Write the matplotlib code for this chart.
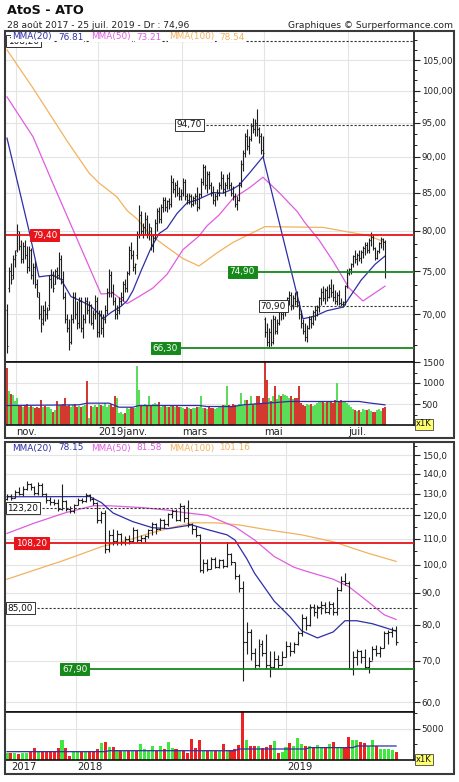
import numpy as np
import matplotlib.pyplot as plt
from matplotlib.patches import Rectangle
from matplotlib.ticker import FixedLocator, FuncFormatter, NullFormatter
import matplotlib.transforms as mtransforms

# ===============================
# DONNEES JOURNALIERES (oct. 2018 - 25 juil. 2019)
# ===============================
d_open = [70.5, 73, 75, 74.5, 76.5, 77.5, 79.5, 78, 76.5, 78,
          77, 75.5, 77.5, 74.5, 75.5, 73.5, 72, 70, 69.5, 70.5,
          70, 71, 74, 74.5, 73.5, 75, 74.5, 76.5, 74, 72,
          69.5, 68.5, 67, 69.5, 72, 70, 69, 71.5, 68.5, 69.5,
          71.5, 70.5, 71, 69, 70, 71.5, 68, 70, 68.5, 69.5,
          70.5, 72.5, 74.5, 72.5, 71.5, 70, 70.5, 71.5, 72, 73.5,
          73, 74.8, 77.5, 77, 75.5, 77, 79.5, 82, 80, 80.5,
          81.5, 79.5, 80, 78, 79, 81, 82.5, 81.5, 83, 84,
          83, 83.8, 83.5, 86.5, 85.5, 86, 85, 84.5, 85, 86.5,
          84.5, 84, 84.5, 83.5, 84.2, 84.5, 83, 84.8, 86.5, 88.5,
          86, 87.5, 86, 85, 84, 84.5, 85, 86, 87, 85.5,
          86, 87, 86, 85, 84.5, 83.5, 84, 86, 89, 90.5,
          93, 91.5, 92.5, 94.5, 94, 95, 94, 93, 91, 69.5,
          68, 67, 68, 67, 69.5, 68.2, 69, 70.5, 70, 70.8,
          71, 71.8, 72.2, 71, 71.8, 71.5, 71, 70, 69, 68.2,
          67.5, 68.5, 69.5, 69, 70.2, 70.5, 70.8, 71.8, 72.5, 71.8,
          72.8, 72, 73, 72.5, 72, 71.5, 72.2, 71.3, 71.2, 71.4,
          73.2, 74.8, 75.2, 75.8, 76.8, 76.5, 77, 76.6, 77.3, 77.8,
          78.2, 77.5, 78.8, 79.2, 77.8, 76.6, 77.4, 78.4, 78.9, 78.5]
d_high = [71.2, 75.5, 76, 77, 77.5, 80.8, 80, 78.8, 78.5, 78.8,
          78, 78, 77.8, 76, 76.2, 74, 72.5, 71, 71, 71.5,
          70.8, 74.5, 75.3, 75, 75.3, 75.5, 77.3, 77, 75, 72.5,
          70, 69.5, 70, 72.5, 72.5, 71.5, 72, 72, 70, 72,
          72, 71.5, 71.2, 70.5, 72.2, 72, 70.5, 70.5, 70, 71,
          73, 75.2, 75, 73.5, 72, 71, 72, 72.5, 73.8, 74,
          75, 78, 78.5, 77.5, 76, 80, 83.3, 82.5, 81, 82.4,
          82, 81, 80.4, 79.5, 81.5, 82.9, 83, 83.5, 84.4, 84.4,
          84, 84.2, 87.4, 87, 86.5, 86.7, 85.8, 85.5, 87, 86.8,
          85, 85, 84.8, 84.5, 85, 85.7, 85, 87, 89, 88.8,
          88, 88, 86.5, 85.9, 85, 85.5, 86.5, 87.9, 87.5, 86.5,
          87.5, 87.8, 86.5, 85.9, 85, 84.5, 86.5, 89.5, 91, 93.5,
          94, 93, 95, 95.8, 95.5, 97.1, 94.3, 93.5, 93, 69.7,
          69, 68.5, 69.5, 69.9, 69.8, 69.5, 71, 71.6, 71.2, 71.5,
          72, 72.7, 72.5, 72.2, 72.5, 72.7, 71.5, 70.5, 69.5, 69,
          68.8, 69.8, 69.8, 70.5, 70.9, 71, 72, 73, 73.2, 73,
          73.2, 73.5, 74, 73.5, 72.8, 72.5, 72.8, 71.8, 71.5, 73.4,
          75.2, 75.4, 76, 77, 77.6, 77.2, 77.5, 77.6, 78, 78.5,
          78.5, 79, 79.8, 79.5, 77.9, 77.6, 78.6, 79.2, 79, 78.8]
d_low = [65.8, 72.5, 73.5, 74, 75.5, 77.3, 77.5, 76, 76, 76.5,
         74.8, 75, 74, 73.5, 73, 71.9, 69.5, 68, 68.8, 69.2,
         69.5, 70.5, 73, 72.5, 73.5, 74, 74, 73.5, 71.7, 69,
         68, 66.1, 66.8, 69, 69.5, 68.4, 68.5, 68, 67.4, 69,
         70, 69, 68.8, 68.4, 69.5, 67.5, 67.5, 67.8, 67.5, 69,
         70, 72, 72, 71, 69.5, 69.5, 70, 71, 71.5, 72.5,
         72.5, 74.5, 76.5, 75, 74.6, 76.5, 79, 79.5, 79.1, 79.5,
         79, 78.8, 77.5, 77.3, 78.8, 80, 81, 81, 82.4, 82.5,
         82.4, 82.8, 83, 85, 84.4, 84.5, 84, 84, 84.5, 84,
         83.4, 83.5, 83.1, 83.2, 83.5, 82.5, 82.8, 84.4, 86, 85.5,
         85, 85.5, 84.5, 83.5, 83.2, 84, 84.5, 85.5, 85, 84.5,
         85.5, 85.5, 84.5, 84, 83, 82.6, 83.8, 85.8, 88, 90,
         91, 90.4, 92.3, 93.5, 93, 93, 92, 90.4, 89.9, 67.5,
         66.5, 66.4, 66.5, 66.8, 67.8, 67.8, 68.8, 69.4, 69.5, 69.8,
         70.5, 71, 70.5, 70.6, 71, 70.8, 69.5, 68.5, 67.8, 67.1,
         67, 68.4, 68.5, 68.8, 69.4, 69.8, 70.2, 71, 71.5, 71.2,
         71.5, 71.8, 72, 71.5, 71.2, 71, 71, 70.9, 70.8, 71,
         73, 74.5, 74.6, 75.5, 76, 75.7, 76.2, 76, 76.6, 77,
         77.2, 77.2, 78, 77.6, 76.3, 76.4, 77.2, 77.8, 77.6, 74.2]
d_close = [66.5, 75, 74, 76.5, 77, 80, 78, 76.5, 78, 77,
           75.5, 77.5, 74.5, 75.5, 73.5, 72.5, 70, 69, 70.5, 70,
           70.5, 74, 74.5, 73, 75, 74.5, 76.5, 74, 72, 69.5,
           68.5, 67, 69.5, 72, 70, 69, 71.5, 68.5, 69.5, 71.5,
           70.5, 71, 69, 70, 71.5, 68, 70, 68.5, 69.5, 70.5,
           72.5, 74.5, 72.5, 71.5, 70, 70.5, 71.5, 72, 73.5, 73,
           74.8, 77.5, 77, 75.5, 75.8, 79.5, 82, 80, 80.5, 81.5,
           79.5, 80.5, 78, 79, 81, 82.5, 81.5, 83, 84, 83,
           83.8, 83.5, 86.5, 85.5, 86, 85, 84.5, 85, 86.5, 84.5,
           84, 84.5, 83.5, 84.2, 84.5, 83, 84.8, 86.5, 88.5, 86,
           87.5, 86, 85, 84, 84.5, 85, 86, 87, 85.5, 86,
           87, 86, 85, 84.5, 83.5, 84, 86, 89, 90.5, 93,
           91.5, 92.5, 94.5, 94, 95, 94, 93, 91, 90.5, 68,
           67, 68, 67, 69.5, 68.2, 69, 70.5, 70, 70.8, 71,
           71.8, 72.2, 71, 71.8, 71.5, 71, 70, 69, 68.2, 67.5,
           68.5, 69.5, 69, 70.2, 70.5, 70.8, 71.8, 72.5, 71.8, 72.8,
           72, 73, 72.5, 72, 71.5, 72.2, 71.3, 71.2, 71.4, 73.2,
           74.8, 75.2, 75.8, 76.8, 76.5, 77, 76.6, 77.3, 77.8, 78.2,
           77.5, 78.8, 79.2, 77.8, 76.6, 77.4, 78.4, 78.9, 78.5, 74.96]
d_vol = [1360, 800, 750, 720, 560, 640, 480, 450, 420, 470,
         500, 440, 460, 430, 400, 420, 410, 600, 440, 450,
         430, 420, 380, 320, 350, 560, 470, 480, 500, 640,
         450, 480, 430, 470, 500, 440, 460, 420, 450, 470,
         1040, 160, 450, 420, 470, 430, 500, 480, 460, 520,
         440, 470, 500, 440, 680, 650, 280, 300, 270, 290,
         400, 380, 420, 410, 400, 1400, 840, 480, 460, 500,
         470, 680, 470, 490, 520, 510, 540, 430, 460, 450,
         420, 440, 470, 450, 430, 460, 420, 440, 410, 390,
         420, 400, 380, 410, 400, 420, 440, 680, 400, 410,
         380, 420, 400, 410, 380, 400, 420, 450, 470, 480,
         920, 480, 460, 500, 470, 450, 490, 760, 480, 600,
         600, 470, 680, 500, 520, 680, 680, 500, 640, 1520,
         1080, 640, 560, 680, 920, 620, 720, 700, 740, 720,
         680, 640, 700, 620, 640, 640, 920, 520, 480, 460,
         500, 470, 490, 460, 480, 520, 560, 540, 560, 520,
         580, 560, 540, 520, 600, 1000, 560, 600, 540, 580,
         520, 480, 440, 380, 360, 340, 360, 320, 380, 350,
         360, 370, 340, 320, 300, 360, 380, 330, 400, 420]

ma20_idx = [0, 11, 16, 19, 23, 27, 32, 37, 42, 47, 48, 52, 57, 60, 63, 67, 72, 76,
            80, 85, 90, 95, 103, 108, 113, 116, 121, 128, 148, 154, 160, 168, 177, 184, 189]
ma20_val = [92.7, 80, 74.3, 74.4, 74.5, 74, 72, 71.5, 70.9, 69.8, 69.5, 70.2, 70.9, 71.5,
            72.7, 75, 77.8, 79.6, 80.3, 82.2, 83.6, 84, 85, 84.9, 85.5, 86, 87.6, 90,
            69.5, 69.8, 70.4, 70.8, 73.9, 75.8, 76.81]
ma50_idx = [0, 13, 23, 31, 37, 42, 47, 53, 60, 66, 73, 80, 88, 96, 100, 106, 113, 121,
            128, 136, 145, 149, 156, 163, 171, 178, 189]
ma50_val = [99, 92.9, 86.2, 81.3, 77.8, 75, 72.3, 72.4, 71.2, 72, 73, 74.6, 77.6, 79.3,
            80.6, 82, 84.2, 85.6, 87.1, 85, 82.5, 81, 78.8, 76.2, 73, 71.5, 73.21]
ma100_idx = [0, 13, 30, 41, 46, 55, 60, 65, 71, 80, 88, 96, 105, 113, 121, 129, 158, 171, 180, 189]
ma100_val = [106.7, 100.4, 92.3, 87.7, 86.3, 84.4, 82.6, 81.5, 79.6, 77.9, 76.5, 75.6,
             77.2, 78.5, 79.5, 80.5, 80.4, 79.8, 79.4, 78.54]
vma_idx = [0, 13, 36, 40, 51, 56, 63, 66, 96, 100, 113, 118, 130, 141, 176, 182, 189]
vma_val = [464, 470, 480, 520, 520, 424, 424, 464, 464, 440, 440, 480, 520, 560, 560, 520, 480]

month_idx = [5, 46, 88, 129, 171]
month_lbl = ["nov.", "2019janv.", "mars", "mai", "juil."]

# ===============================
# DONNEES HEBDOMADAIRES (28 août 2017 - 25 juil. 2019)
# ===============================
w_open = [127.5, 129, 128, 131, 130, 132.5, 134.5, 133, 130.5, 134,
          130, 127, 126, 125.5, 123, 126.5, 123, 122, 124.5, 127,
          126.5, 129.5, 127.5, 125.5, 118, 121, 106, 111.5, 109, 112,
          108.5, 110, 109, 113.5, 109.5, 110.5, 111, 113.5, 116, 114,
          118, 116, 120.5, 122, 118, 124, 119, 116, 114, 111.5,
          98, 100.5, 98.5, 102, 99, 101.5, 99.5, 104, 101, 96,
          91.5, 75, 78, 72, 69, 74.5, 72, 69, 68.5, 70.5,
          69, 71, 74, 72.5, 74.5, 77.5, 82, 80, 85.5, 84,
          85.5, 86, 84, 86.5, 84, 91, 94, 93.5, 68, 71,
          72.5, 71, 68.5, 70, 73, 72, 73.5, 77.5, 78, 78.5]
w_high = [130, 130, 132, 133, 133.5, 136, 135, 133.5, 135.8, 135,
          130.5, 128.5, 127.5, 127.3, 134.5, 127, 124, 125, 128, 128,
          130.5, 130, 128.5, 126, 122, 122.4, 113.8, 114, 113.5, 112.5,
          111, 111.5, 114.8, 114, 111.5, 111.5, 114, 117.2, 116.5, 118.8,
          118.5, 121, 123, 123, 125.8, 124.5, 127, 116.7, 115.5, 112,
          102, 102, 102.8, 103, 102, 102, 108.5, 104.5, 101, 96.5,
          93.9, 80.9, 78.9, 73.4, 76, 75.5, 77.4, 72.5, 72.5, 71.5,
          72.5, 75.2, 75, 75, 78.2, 83.3, 82.5, 86.4, 86.4, 86,
          87.4, 87, 87.2, 87, 92.1, 96, 97, 94, 72.5, 73,
          72.8, 73, 71, 74, 74.3, 74, 78.2, 78.5, 79.3, 79.7]
w_low = [126.8, 127, 128, 129.5, 129, 132, 132, 129.5, 129.5, 129,
         125.6, 124.8, 124.5, 122, 122.5, 122, 121.2, 121, 124.5, 125.5,
         126, 126.5, 124.5, 116.8, 116.5, 104.5, 104.8, 107.5, 107.5, 107.5,
         107.5, 108, 108.6, 108.6, 108.6, 108.6, 110.5, 111.4, 112, 113.5,
         114.6, 115.5, 119, 117.3, 117.5, 117, 115, 112, 110.9, 97.2,
         97, 97.5, 98.5, 98.7, 98.7, 98.7, 99, 100, 94.7, 90.4,
         65, 71.8, 70.2, 67.8, 68.5, 71.3, 67.8, 66, 67.8, 68,
         68.9, 71, 71.3, 72, 74.2, 76.8, 78.5, 79.7, 82.5, 82.1,
         83.3, 83.5, 83.3, 83, 83, 90.5, 92.8, 67.8, 66.4, 68.9,
         69.5, 67.8, 66.8, 70.2, 71.3, 71, 73.5, 74.5, 76.5, 74.2]
w_close = [129, 128, 131, 130, 132.5, 134.5, 133, 130.5, 134, 130,
           127, 126, 125.5, 123, 126.5, 123, 122, 124.5, 127, 126.5,
           129.5, 127.5, 125.5, 118, 121, 106, 111.5, 109, 112, 108.5,
           110, 109, 113.5, 109.5, 110.5, 111, 113.5, 116, 114, 118,
           116, 120.5, 122, 118, 124, 119, 116, 114, 111.5, 98,
           100.5, 98.5, 102, 99, 101.5, 99.5, 104, 101, 96, 91.5,
           75, 78, 72, 69, 74, 72, 69, 68.5, 70.5, 69,
           71, 74, 72.5, 74.5, 77.5, 82, 80, 85.5, 84, 85.5,
           86, 84, 86.5, 84, 91, 94, 93.5, 68, 71, 72.5,
           71, 68.5, 70, 73, 72, 73.5, 77.5, 78, 78.5, 74.96]
w_vol = [1080, 1050, 1080, 1000, 1100, 1200, 1250, 1880, 1340, 1400,
         1450, 1400, 1340, 1880, 3230, 2000, 650, 1350, 1300, 1350,
         1340, 1400, 1340, 1780, 2700, 2960, 2040, 2100, 1600, 1450,
         1450, 1500, 1450, 1450, 2530, 1780, 1450, 2310, 1450, 2310,
         1780, 2850, 2000, 1780, 1450, 1450, 1180, 3390, 2000, 3280,
         1450, 1450, 1450, 1450, 1450, 2580, 1600, 1600, 1780, 2420,
         7800, 3230, 2260, 2260, 2260, 1880, 2040, 2420, 3070, 1080,
         1240, 2040, 2700, 2200, 3600, 2580, 2260, 2260, 2150, 2420,
         2150, 2150, 2530, 2850, 2150, 2150, 2150, 3770, 3230, 3230,
         2960, 2700, 2310, 3230, 2310, 1720, 1720, 1720, 1600, 1340]

wma20_idx = [0, 21, 24, 27, 32, 37, 41, 47, 51, 56, 58, 61, 63, 68, 72, 75, 79, 83, 86, 89, 93, 99]
wma20_val = [128.5, 128.6, 125.8, 121, 117.2, 114.6, 114.2, 115.8, 113.8, 111.6, 109.5,
             102.2, 96.8, 87.3, 82.4, 78.2, 76.2, 77.9, 81.2, 81.2, 80.3, 78.15]
wma50_idx = [0, 7, 15, 22, 26, 34, 41, 45, 51, 58, 63, 68, 73, 76, 83, 87, 92, 96, 99]
wma50_val = [112.2, 116.6, 121.2, 124.3, 124.3, 123.5, 122.3, 121.2, 120, 115, 109.5,
             103, 99, 97.6, 94.7, 92.1, 87, 83, 81.58]
wma100_idx = [0, 14, 19, 24, 31, 36, 42, 47, 53, 59, 66, 75, 83, 92, 99]
wma100_val = [94.7, 101.3, 104, 106.8, 109.5, 112.1, 114.7, 116.7, 116.7, 115.8, 113.8,
              111.6, 108.8, 104.2, 101.16]
wvma_idx = [0, 25, 26, 58, 59, 76, 77, 88, 89, 99]
wvma_val = [1345, 1345, 1500, 1500, 1775, 1775, 1990, 1990, 2260, 2260]

year_idx = [0.7, 17.6, 71.0]
year_lbl = ["2017", "2018", "2019"]

# ===============================
# STYLE / MISE EN PAGE (pixels)
# ===============================
W, H = 460, 782
BAR = '#1e1e1e'
C20, C50, C100 = '#2e2ea8', '#e05ce0', '#f2b25e'
RED, GREEN = '#e8141b', '#16891a'
GRID = '#e4e4e4'
TXT = '#222222'

fig = plt.figure(figsize=(W / 100, H / 100), dpi=100)


def px_axes(x0, y0, x1, y1):
    return fig.add_axes([x0 / W, 1 - y1 / H, (x1 - x0) / W, (y1 - y0) / H])


def ftext(x, y, s, **kw):
    return fig.text(x / W, 1 - y / H, s, **kw)


def draw_ohlc(ax, o, h, l, c, tick):
    x = np.arange(len(o))
    ax.vlines(x, l, h, color=BAR, lw=0.8, zorder=3)
    ax.hlines(o, x - tick, x, color=BAR, lw=0.8, zorder=3)
    ax.hlines(c, x, x + tick, color=BAR, lw=0.8, zorder=3)


def style_axis(ax, major, minor, fmt, size=6.3):
    ax.yaxis.tick_right()
    ax.yaxis.set_major_locator(FixedLocator(major))
    ax.yaxis.set_minor_locator(FixedLocator(minor))
    ax.yaxis.set_major_formatter(FuncFormatter(fmt))
    ax.yaxis.set_minor_formatter(NullFormatter())
    ax.tick_params(axis='y', which='major', direction='out', length=4, width=0.8,
                   labelsize=size, pad=1.5, colors=TXT)
    ax.tick_params(axis='y', which='minor', direction='out', length=2.5, width=0.7, colors=TXT)
    ax.set_xticks([])
    ax.spines['left'].set_visible(False)
    for s in ('top', 'bottom', 'right'):
        ax.spines[s].set_color('#111111')
        ax.spines[s].set_linewidth(1.2)
    ax.grid(axis='y', which='major', color=GRID, lw=0.8, zorder=0)
    ax.set_axisbelow(True)


def level(ax, val, x0, x1, text, tx, ha, kind):
    if kind == 'red':
        ax.hlines(val, x0, x1, color=RED, lw=1.3, zorder=4)
        fc, ec, tc = RED, RED, 'white'
    elif kind == 'green':
        ax.hlines(val, x0, x1, color=GREEN, lw=1.3, zorder=4)
        fc, ec, tc = GREEN, GREEN, 'white'
    else:
        ax.hlines(val, x0, x1, color='#333333', lw=0.8, linestyles=(0, (2, 1.6)), zorder=4)
        fc, ec, tc = 'white', '#333333', '#111111'
    ax.text(tx, val, text, ha=ha, va='center', fontsize=6.4, color=tc, zorder=6,
            bbox=dict(boxstyle='square,pad=0.18', fc=fc, ec=ec, lw=0.7))


comma2 = lambda v, p: f'{v:.2f}'.replace('.', ',')
comma1 = lambda v, p: f'{v:.1f}'.replace('.', ',')
plain = lambda v, p: f'{v:.0f}'

# ===============================
# PANNEAU HAUT : JOURNALIER
# ===============================
XL1 = (-0.5, 203.5)
ax1 = px_axes(6, 31, 414, 362)
ax1.set_yscale('log')
ax1.set_xlim(*XL1)
ax1.set_ylim(64.87, 109.97)
major1 = [70, 75, 80, 85, 90, 95, 100, 105]
minor1 = [v + d for v in range(65, 110, 5) for d in (5 / 3, 10 / 3)]
style_axis(ax1, major1, minor1, comma2)
for m in month_idx:
    ax1.axvline(m - 0.5, color=GRID, lw=0.8, zorder=0)

draw_ohlc(ax1, d_open, d_high, d_low, d_close, 0.55)
ax1.plot(ma100_idx, ma100_val, color=C100, lw=0.9, zorder=2)
ax1.plot(ma50_idx, ma50_val, color=C50, lw=0.9, zorder=2)
ax1.plot(ma20_idx, ma20_val, color=C20, lw=0.9, zorder=2)

level(ax1, 108.20, XL1[0], XL1[1], '108,20', 0.5, 'left', 'dash')
level(ax1, 94.70, 97.5, XL1[1], '94,70', 97.5, 'right', 'dash')
level(ax1, 79.40, XL1[0], XL1[1], '79,40', 12.5, 'left', 'red')
level(ax1, 74.90, 124.0, XL1[1], '74,90', 124.0, 'right', 'green')
level(ax1, 70.90, 139.5, XL1[1], '70,90', 139.5, 'right', 'dash')
level(ax1, 66.30, 85.5, XL1[1], '66,30', 85.5, 'right', 'green')

# volume journalier
ax2 = px_axes(6, 362, 414, 425)
ax2.set_xlim(*XL1)
ax2.set_ylim(0, 1500)
style_axis(ax2, [500, 1000, 1500], [250, 750, 1250], plain)
for m in month_idx:
    ax2.axvline(m - 0.5, color=GRID, lw=0.8, zorder=0)
up_d = [c >= o for o, c in zip(d_open, d_close)]
ax2.bar(np.arange(len(d_vol)), d_vol, width=0.72,
        color=['#5ade5a' if u else '#d2392f' for u in up_d], zorder=2)
ax2.plot(vma_idx, vma_val, color=C20, lw=0.9, zorder=3)
tr2 = mtransforms.blended_transform_factory(ax2.transData, ax2.transAxes)
for m, lbl in zip(month_idx, month_lbl):
    ax2.text(m - 0.3, -0.115, lbl, transform=tr2, ha='left', va='center',
             fontsize=7.2, color=TXT)

# ===============================
# PANNEAU BAS : HEBDOMADAIRE
# ===============================
XL3 = (-0.25, 103.56)
ax3 = px_axes(6, 442, 414, 711.7)
ax3.set_yscale('log')
ax3.set_xlim(*XL3)
ax3.set_ylim(57.98, 157.4)
major3 = list(range(60, 151, 10))
minor3 = list(range(65, 156, 10))
style_axis(ax3, major3, minor3, comma1)
for y in year_idx[1:]:
    ax3.axvline(y, color=GRID, lw=0.8, zorder=0)

draw_ohlc(ax3, w_open, w_high, w_low, w_close, 0.5)
ax3.plot(wma100_idx, wma100_val, color=C100, lw=0.9, zorder=2)
ax3.plot(wma50_idx, wma50_val, color=C50, lw=0.9, zorder=2)
ax3.plot(wma20_idx, wma20_val, color=C20, lw=0.9, zorder=2)

level(ax3, 123.20, 7.9, XL3[1], '123,20', 7.9, 'right', 'dash')
level(ax3, 108.20, XL3[0], XL3[1], '108,20', 2.3, 'left', 'red')
level(ax3, 85.00, 6.6, XL3[1], '85,00', 6.6, 'right', 'dash')
level(ax3, 67.90, 20.4, XL3[1], '67,90', 20.4, 'right', 'green')

ax4 = px_axes(6, 711.7, 414, 760)
ax4.set_xlim(*XL3)
ax4.set_ylim(0, 7790)
style_axis(ax4, [5000], [2500, 7500], plain)
for y in year_idx[1:]:
    ax4.axvline(y, color=GRID, lw=0.8, zorder=0)
up_w = [c >= o for o, c in zip(w_open, w_close)]
ax4.bar(np.arange(len(w_vol)), w_vol, width=0.78,
        color=['#3ee83e' if u else '#ee2222' for u in up_w], zorder=2)
ax4.plot(wvma_idx, wvma_val, color=C20, lw=0.9, zorder=3)
tr4 = mtransforms.blended_transform_factory(ax4.transData, ax4.transAxes)
for y, lbl in zip(year_idx, year_lbl):
    ax4.text(y + 0.4, -0.145, lbl, transform=tr4, ha='left', va='center',
             fontsize=7.2, color=TXT)

# ===============================
# TEXTES ET CADRES
# ===============================
ftext(7, 11, 'AtoS - ATO', fontsize=9.2, fontweight='bold', va='center', color='#111111')
ftext(7, 25, '28 août 2017 - 25 juil. 2019 - Dr : 74,96', fontsize=6.6, va='center', color=TXT)
ftext(453, 25, 'Graphiques © Surperformance.com', fontsize=6.6, va='center', ha='right', color=TXT)

legend_top = [(12, 'MMA(20)', C20), (58, '76.81', C20), (91, 'MMA(50)', C50),
              (136, '73.21', C50), (169, 'MMA(100)', C100), (219, '78.54', C100)]
for x, s, c in legend_top:
    ftext(x, 37, s, fontsize=6.4, color=c, va='center', zorder=10,
          bbox=dict(boxstyle='square,pad=0.1', fc='white', ec='none'))
legend_bot = [(12, 'MMA(20)', C20), (58, '78.15', C20), (91, 'MMA(50)', C50),
              (136, '81.58', C50), (169, 'MMA(100)', C100), (219, '101.16', C100)]
for x, s, c in legend_bot:
    ftext(x, 448, s, fontsize=6.4, color=c, va='center', zorder=10)

for y in (424, 759):
    ftext(416, y, 'x1K', fontsize=6, va='center', color='#111111',
          bbox=dict(boxstyle='square,pad=0.12', fc='#ffff70', ec='#444444', lw=0.6))

for y0, y1 in ((31, 438), (442, 774)):
    fig.add_artist(Rectangle((5.5 / W, 1 - y1 / H), 449 / W, (y1 - y0) / H,
                             transform=fig.transFigure, fill=False,
                             ec='#3a3a3a', lw=1.5, zorder=20))

fig.savefig('out.png', dpi=100, facecolor='white')
